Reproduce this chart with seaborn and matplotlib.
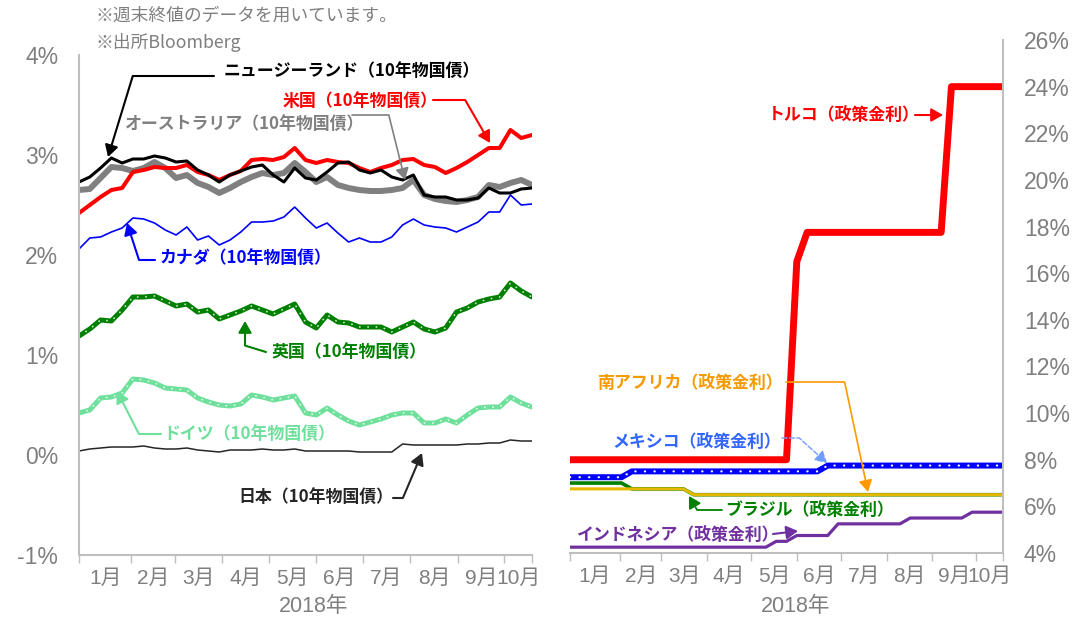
import matplotlib
matplotlib.use('Agg')
import matplotlib.pyplot as plt
import numpy as np
import pandas as pd
import seaborn as sns

# weekly closes (Friday), 2018
weeks = pd.date_range('2017-12-29', '2018-10-19', freq='7D')
month_labels = ['1月', '2月', '3月', '4月', '5月', '6月', '7月', '8月', '9月', '10月']

# 10-year government bond yields (%)
us = [2.42, 2.50, 2.58, 2.65, 2.67, 2.83, 2.85, 2.88, 2.87, 2.87, 2.90, 2.83, 2.80, 2.75, 2.80,
      2.84, 2.95, 2.96, 2.95, 2.98, 3.07, 2.95, 2.92, 2.95, 2.93, 2.92, 2.87, 2.83, 2.87, 2.90,
      2.95, 2.96, 2.90, 2.88, 2.82, 2.87, 2.93, 3.00, 3.07, 3.07, 3.25, 3.17, 3.20]
nz = [2.73, 2.78, 2.87, 2.97, 2.92, 2.96, 2.96, 2.99, 2.97, 2.93, 2.94, 2.85, 2.80, 2.73, 2.80,
      2.84, 2.88, 2.90, 2.80, 2.73, 2.87, 2.77, 2.75, 2.83, 2.92, 2.93, 2.85, 2.82, 2.85, 2.78,
      2.75, 2.80, 2.60, 2.58, 2.58, 2.55, 2.55, 2.57, 2.67, 2.62, 2.62, 2.66, 2.67]
au = [2.65, 2.66, 2.77, 2.88, 2.87, 2.84, 2.87, 2.93, 2.87, 2.77, 2.80, 2.72, 2.68, 2.62, 2.67,
      2.73, 2.78, 2.82, 2.80, 2.82, 2.92, 2.83, 2.73, 2.78, 2.70, 2.67, 2.65, 2.64, 2.64, 2.65,
      2.67, 2.75, 2.60, 2.56, 2.54, 2.53, 2.55, 2.58, 2.70, 2.68, 2.72, 2.75, 2.70]
ca = [2.06, 2.17, 2.18, 2.23, 2.27, 2.37, 2.36, 2.32, 2.25, 2.20, 2.28, 2.15, 2.19, 2.10, 2.15,
      2.23, 2.33, 2.33, 2.34, 2.38, 2.48, 2.37, 2.27, 2.32, 2.22, 2.13, 2.17, 2.13, 2.13, 2.18,
      2.30, 2.36, 2.30, 2.28, 2.27, 2.23, 2.28, 2.33, 2.43, 2.43, 2.60, 2.50, 2.51]
uk = [1.19, 1.26, 1.35, 1.34, 1.45, 1.58, 1.58, 1.59, 1.54, 1.49, 1.51, 1.43, 1.45, 1.36, 1.40,
      1.44, 1.49, 1.45, 1.41, 1.46, 1.51, 1.33, 1.27, 1.40, 1.33, 1.32, 1.28, 1.28, 1.28, 1.23,
      1.28, 1.33, 1.26, 1.23, 1.27, 1.43, 1.47, 1.53, 1.56, 1.58, 1.72, 1.64, 1.58]
de = [0.42, 0.45, 0.57, 0.58, 0.62, 0.76, 0.75, 0.72, 0.67, 0.66, 0.65, 0.57, 0.53, 0.50, 0.49,
      0.51, 0.60, 0.58, 0.55, 0.57, 0.59, 0.42, 0.40, 0.47, 0.40, 0.34, 0.30, 0.33, 0.36, 0.40,
      0.42, 0.42, 0.32, 0.32, 0.36, 0.32, 0.40, 0.47, 0.48, 0.48, 0.58, 0.52, 0.48]
jp = [0.04, 0.06, 0.07, 0.08, 0.08, 0.08, 0.09, 0.07, 0.06, 0.06, 0.07, 0.05, 0.04, 0.03, 0.05,
      0.05, 0.05, 0.06, 0.05, 0.05, 0.06, 0.04, 0.04, 0.04, 0.04, 0.04, 0.03, 0.03, 0.03, 0.03,
      0.11, 0.10, 0.10, 0.10, 0.10, 0.10, 0.11, 0.11, 0.12, 0.12, 0.15, 0.14, 0.14]

# policy rates (%)
tr = [8.0, 8.0, 8.0, 8.0, 8.0, 8.0, 8.0, 8.0, 8.0, 8.0, 8.0, 8.0, 8.0, 8.0, 8.0,
      8.0, 8.0, 8.0, 8.0, 8.0, 8.0, 8.0, 16.5, 17.75, 17.75, 17.75, 17.75, 17.75, 17.75, 17.75,
      17.75, 17.75, 17.75, 17.75, 17.75, 17.75, 17.75, 24.0, 24.0, 24.0, 24.0, 24.0, 24.0]
mx = [7.25, 7.25, 7.25, 7.25, 7.25, 7.25, 7.5, 7.5, 7.5, 7.5, 7.5, 7.5, 7.5, 7.5, 7.5,
      7.5, 7.5, 7.5, 7.5, 7.5, 7.5, 7.5, 7.5, 7.5, 7.5, 7.75, 7.75, 7.75, 7.75, 7.75,
      7.75, 7.75, 7.75, 7.75, 7.75, 7.75, 7.75, 7.75, 7.75, 7.75, 7.75, 7.75, 7.75]
br = [7.0, 7.0, 7.0, 7.0, 7.0, 7.0, 6.75, 6.75, 6.75, 6.75, 6.75, 6.75, 6.5, 6.5, 6.5,
      6.5, 6.5, 6.5, 6.5, 6.5, 6.5, 6.5, 6.5, 6.5, 6.5, 6.5, 6.5, 6.5, 6.5, 6.5,
      6.5, 6.5, 6.5, 6.5, 6.5, 6.5, 6.5, 6.5, 6.5, 6.5, 6.5, 6.5, 6.5]
za = [6.75, 6.75, 6.75, 6.75, 6.75, 6.75, 6.75, 6.75, 6.75, 6.75, 6.75, 6.75, 6.5, 6.5, 6.5,
      6.5, 6.5, 6.5, 6.5, 6.5, 6.5, 6.5, 6.5, 6.5, 6.5, 6.5, 6.5, 6.5, 6.5, 6.5,
      6.5, 6.5, 6.5, 6.5, 6.5, 6.5, 6.5, 6.5, 6.5, 6.5, 6.5, 6.5, 6.5]
idn = [4.25, 4.25, 4.25, 4.25, 4.25, 4.25, 4.25, 4.25, 4.25, 4.25, 4.25, 4.25, 4.25, 4.25, 4.25,
       4.25, 4.25, 4.25, 4.25, 4.25, 4.5, 4.5, 4.75, 4.75, 4.75, 4.75, 5.25, 5.25, 5.25, 5.25,
       5.25, 5.25, 5.25, 5.5, 5.5, 5.5, 5.5, 5.5, 5.5, 5.75, 5.75, 5.75, 5.75]

left_ticks = [-1, 0, 1, 2, 3, 4]
right_ticks = [4, 6, 8, 10, 12, 14, 16, 18, 20, 22, 24, 26]

sns.set_style('white')
plt.rcParams['font.family'] = ['Liberation Sans', 'Noto Sans CJK JP']
JP = ['Noto Sans CJK JP', 'DejaVu Sans']
GRAY = '#7f7f7f'
SPINE = '#bfbfbf'

W, H = 1087, 621
fig = plt.figure(figsize=(W / 100, H / 100), dpi=100)
ax1 = fig.add_axes([79 / W, (H - 555) / H, 453 / W, 500 / H])
ax2 = fig.add_axes([570 / W, (H - 553) / H, 433 / W, 513 / H])


def P(x, y):
    return (x, H - y)


# left panel
sns.lineplot(x=weeks, y=jp, ax=ax1, color='#262626', lw=1.1)
sns.lineplot(x=weeks, y=de, ax=ax1, color='#6fe09c', lw=3.6)
ax1.plot(weeks, de, color='white', lw=1.3, ls=(0, (0.1, 4.5)), dash_capstyle='round', alpha=0.8)
sns.lineplot(x=weeks, y=uk, ax=ax1, color='#008000', lw=3.6)
ax1.plot(weeks, uk, color='white', lw=1.3, ls=(0, (0.1, 4.5)), dash_capstyle='round', alpha=0.8)
sns.lineplot(x=weeks, y=ca, ax=ax1, color='#0000ff', lw=1.2)
sns.lineplot(x=weeks, y=au, ax=ax1, color='#808080', lw=4.3)
sns.lineplot(x=weeks, y=us, ax=ax1, color='#ff0000', lw=2.9)
sns.lineplot(x=weeks, y=nz, ax=ax1, color='#000000', lw=2.2)

# right panel
sns.lineplot(x=weeks, y=idn, ax=ax2, color='#7030a0', lw=2.3)
sns.lineplot(x=weeks, y=br, ax=ax2, color='#008000', lw=2.6)
sns.lineplot(x=weeks, y=za, ax=ax2, color='#e6b800', lw=2.2)
sns.lineplot(x=weeks, y=mx, ax=ax2, color='#0000ff', lw=4.3)
ax2.plot(weeks, mx, color='white', lw=1.6, ls=(0, (0.1, 4.2)), dash_capstyle='round')
sns.lineplot(x=weeks, y=tr, ax=ax2, color='#ff0000', lw=5)

# month boundaries and label positions
bounds = [weeks[0]] + list(pd.date_range('2018-02-01', '2018-10-01', freq='MS')) + [weeks[-1]]
bnum = matplotlib.dates.date2num(bounds)
mids = (bnum[:-1] + bnum[1:]) / 2

for ax in (ax1, ax2):
    ax.set_xlim(weeks[0], weeks[-1])
    ax.set_xticks(bnum)
    ax.set_xticklabels([])
    ax.set_xticks(mids, minor=True)
    ax.set_xticklabels(month_labels, minor=True)
    ax.tick_params(axis='x', which='major', length=6, width=1, color=SPINE, direction='out', bottom=True)
    ax.tick_params(axis='x', which='minor', length=0, pad=10, labelsize=15, labelcolor=GRAY)
    ax.tick_params(axis='y', length=0, pad=15, labelsize=16.5, labelcolor=GRAY)
    ax.set_xlabel('')
    ax.set_ylabel('')
    for s in ax.spines.values():
        s.set_visible(False)
    ax.spines['bottom'].set_visible(True)
    ax.spines['bottom'].set_color(SPINE)
    ax.spines['bottom'].set_linewidth(1.5)
    ax.grid(False)
    ax.set_facecolor('none')

ax1.set_ylim(-1, 4)
ax1.set_yticks(left_ticks)
ax1.set_yticklabels([f'{t}%' for t in left_ticks])
ax1.spines['left'].set_visible(True)
ax1.spines['left'].set_color(SPINE)
ax1.spines['left'].set_linewidth(1.5)

ax2.set_ylim(4, 26)
ax2.yaxis.tick_right()
ax2.set_yticks(right_ticks)
ax2.set_yticklabels([f'{t}%' for t in right_ticks])
ax2.tick_params(axis='y', length=0, pad=15, labelsize=16.5, labelcolor=GRAY)
ax2.spines['right'].set_visible(True)
ax2.spines['right'].set_color(SPINE)
ax2.spines['right'].set_linewidth(1.5)

ax1.text(0.517, -0.104, '2018年', transform=ax1.transAxes, ha='center', va='center',
         fontsize=15.5, color=GRAY)
ax2.text(0.52, -0.105, '2018年', transform=ax2.transAxes, ha='center', va='center',
         fontsize=15.5, color=GRAY)

# notes
fig.text(96 / W, 1 - 16 / H, '※週末終値のデータを用いています。', fontsize=12.8, color=GRAY,
         family=JP, va='center')
fig.text(96 / W, 1 - 42 / H, '※出所Bloomberg', fontsize=12.8, color=GRAY, family=JP, va='center')

# labels with leader arrows (image pixel positions)
labels = [
    ('ニュージーランド（10年物国債）', '#000000', (224, 72), (214, 76), (108, 157), 0, 73, 1.5),
    ('米国（10年物国債）', '#ff0000', (283, 102), (433, 100), (490, 143), 0, 120, 1.5),
    ('オーストラリア（10年物国債）', '#808080', (125, 125), (352, 115), (405, 180), 0, 104, 1.2),
    ('カナダ（10年物国債）', '#0000ff', (160, 259), (155, 260), (127, 223), 0, -72, 1.5),
    ('英国（10年物国債）', '#008000', (272, 353), (266, 352), (245, 321), 163, 90, 1.5),
    ('ドイツ（10年物国債）', '#6fe09c', (163, 435), (161, 434), (117, 391), 0, -63, 1.5),
    ('日本（10年物国債）', '#262626', (238, 498), (393, 498), (422, 453), 0, -113, 1.5),
    ('トルコ（政策金利）', '#ff0000', (768, 115), (915, 115), (943, 115), None, None, 1.5),
    ('南アフリカ（政策金利）', '#f59a00', (597, 383), (786, 382), (868, 492), 0, 102, 1.2),
    ('メキシコ（政策金利）', '#3366ff', (612, 442), (782, 438), (827, 463), 0, 138, 1.0),
    ('ブラジル（政策金利）', '#008000', (725, 510), (722, 510), (689, 496), 0, -60, 1.3),
    ('インドネシア（政策金利）', '#7030a0', (577, 535), (773, 534), (798, 531), None, None, 1.5),
]
for text, color, tpos, start, end, angA, angB, lw in labels:
    fig.text(tpos[0] / W, 1 - tpos[1] / H, text, fontsize=12.2, fontweight='bold',
             color=color, family=JP, va='center', ha='left')
    arrow_color = {'#f59a00': '#ff9900', '#3366ff': '#6e9cff'}.get(color, color)
    if angA is None:
        conn = 'arc3,rad=0'
    else:
        conn = f'angle,angleA={angA},angleB={angB},rad=0'
    fig.add_artist(matplotlib.patches.FancyArrowPatch(
        P(*start), P(*end), transform=None,
        arrowstyle='-|>,head_length=7,head_width=4', connectionstyle=conn,
        color=arrow_color, lw=lw, shrinkA=0, shrinkB=0,
        linestyle='--' if color == '#3366ff' else '-'))

fig.savefig('out.png', dpi=100)
